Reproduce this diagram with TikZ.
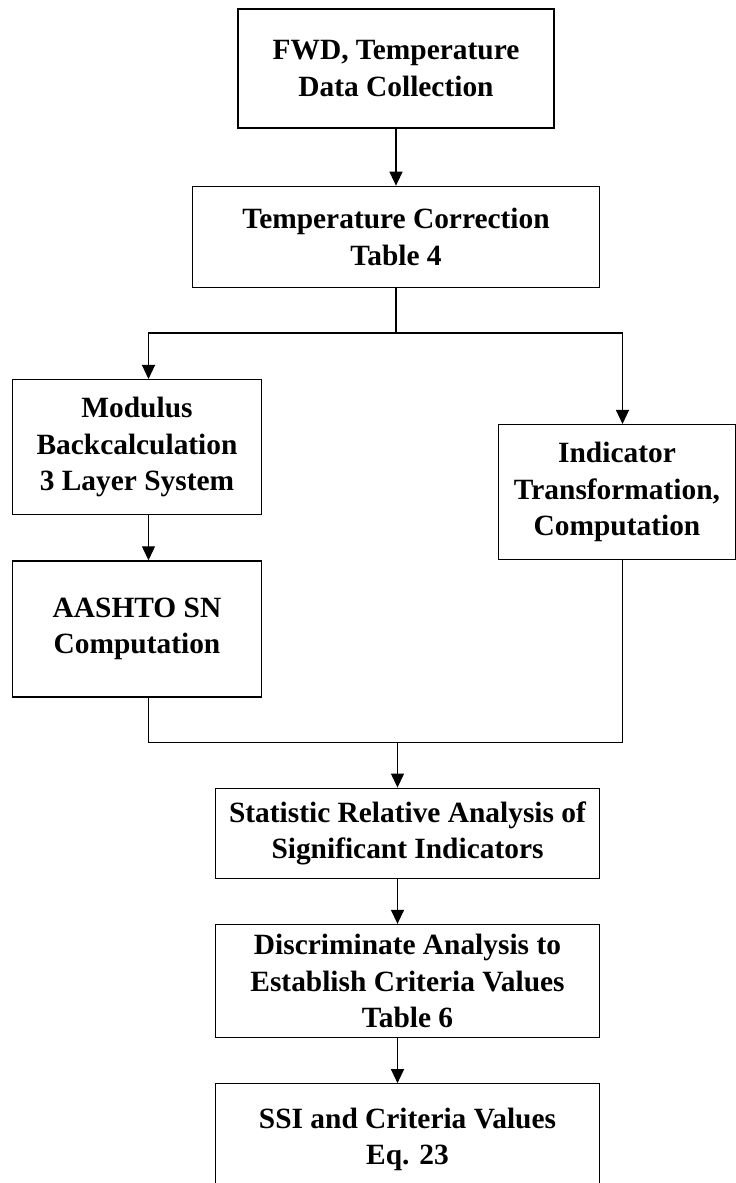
\documentclass[tikz,border=0pt]{standalone}
\usepackage{fontspec}
\setmainfont{Liberation Serif}
\usepackage{tikz}
\usetikzlibrary{calc,positioning,arrows.meta}

\begin{document}
\begin{tikzpicture}[align=center, line width=1.3pt,
    stage/.style={draw, inner sep=2pt, font=\fontsize{29.4}{36.5}\selectfont\bfseries},
    flow/.style={-{Triangle[length=14pt, width=13pt]}}]
    \useasboundingbox (0,0) rectangle (736pt,-1183pt);

    \node [stage, minimum width=316pt, minimum height=119pt] (fwd) at (396pt,-68.5pt) {FWD, Temperature\\Data Collection};

    \node [stage, below=57pt of fwd, minimum width=407pt, minimum height=101pt] (tcorr) {Temperature Correction\\Table 4};

    \node [stage, below=91pt of tcorr, xshift=-259pt, minimum width=249pt, minimum height=135pt] (modulus) {Modulus\\Backcalculation\\3 Layer System};
    \node [stage, below=45pt of modulus, minimum width=249pt, minimum height=136pt] (aashto) {AASHTO SN\\Computation};

    \node [stage, below=136pt of tcorr, xshift=221pt, minimum width=237pt, minimum height=135pt] (indicator) {Indicator\\Transformation,\\Computation};

    \node [stage, below=90pt of aashto, xshift=270.5pt, minimum width=384pt, minimum height=90pt] (stat) {Statistic Relative Analysis of\\Significant Indicators};
    \node [stage, below=45pt of stat, minimum width=384pt, minimum height=113pt] (disc) {Discriminate Analysis to\\Establish Criteria Values\\Table 6};
    \node [stage, below=45pt of disc, minimum width=384pt, minimum height=111pt] (ssi) {SSI and Criteria Values\\Eq. 23};

    \coordinate (split) at ([yshift=-45pt]tcorr.south);
    \coordinate (join) at ([xshift=-10pt, yshift=45pt]stat.north);

    \draw[flow] (fwd) -- (tcorr);
    \draw (tcorr.south) -- (split);
    \draw[flow] (split) -| ([xshift=11.5pt]modulus.north);
    \draw[flow] (split) -| ([xshift=5.5pt]indicator.north);
    \draw[flow] ([xshift=11.5pt]modulus.south) -- ([xshift=11.5pt]aashto.north);

    \draw ([xshift=11.5pt]aashto.south) |- (join) -| ([xshift=5.5pt]indicator.south);
    \draw[flow] (join) -- ([xshift=-10pt]stat.north);
    \draw[flow] ([xshift=-10pt]stat.south) -- ([xshift=-10pt]disc.north);
    \draw[flow] ([xshift=-10pt]disc.south) -- ([xshift=-10pt]ssi.north);

\end{tikzpicture}
\end{document}
